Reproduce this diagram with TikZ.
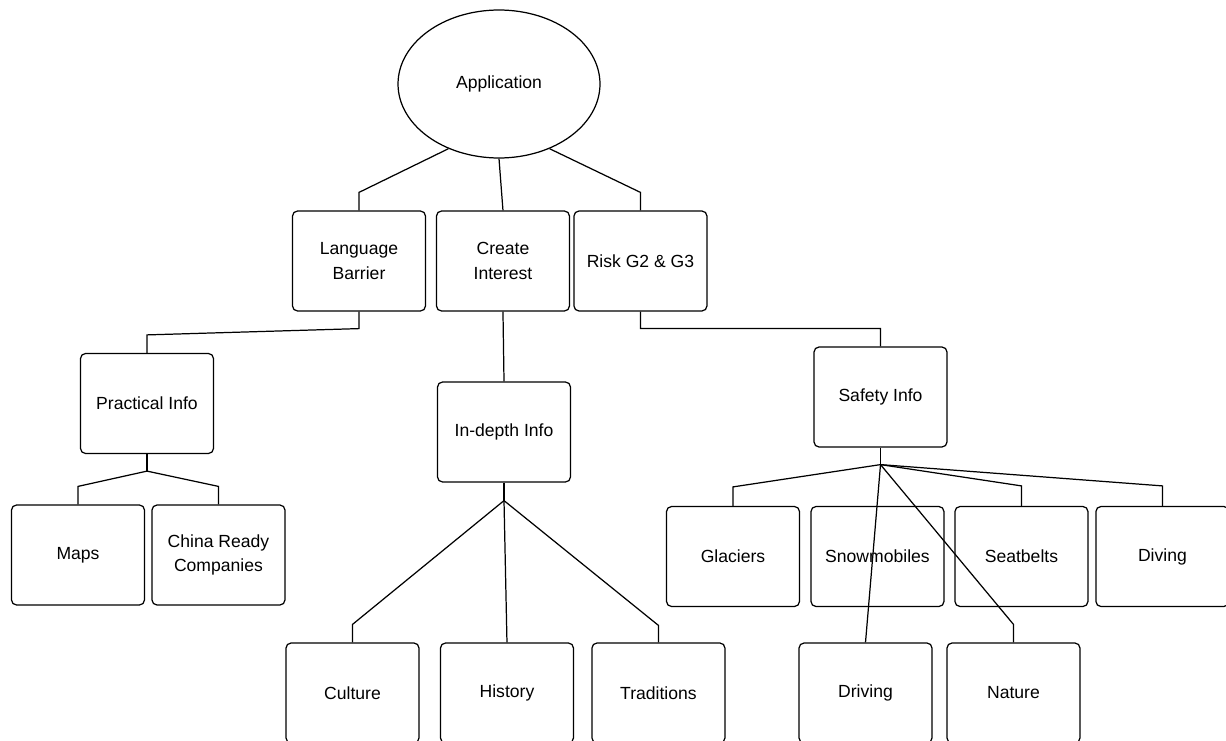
\documentclass[tikz,border=0pt]{standalone}
\usepackage{fontspec}
\setmainfont{Liberation Sans}
\usepackage{tikz}
\usetikzlibrary{calc,shapes,positioning}
\tikzset{
    block/.style = {draw, rectangle, rounded corners=0.1cm,
        minimum height=2cm,
        minimum width=2.66cm, align=center},
    topnode/.style = {draw, ellipse, minimum width=4.04cm, minimum height=2.96cm},
    link/.style = {draw, -}
}

\begin{document}
\begin{tikzpicture}[x=0.02cm, y=-0.02cm, line width=0.7pt, every node/.style={font=\fontsize{10}{14}\selectfont}]
        \useasboundingbox (0,0) rectangle (1226,740);
        % top
        \node [topnode] (app) at (499,84) {Application};
        \node [block] (lang) at (359,261) {Language\\Barrier};
        \node [block, right of=lang, node distance=2.88cm] (create) {Create\\Interest};
        \node [block, right of=create, node distance=2.75cm] (risk) {Risk G2 \& G3};
        % second level
        \node [block] (practical) at (147,403.5) {Practical Info};
        \node [block] (indepth) at (504,432) {In-depth Info};
        \node [block] (safety) at (880.5,397) {Safety Info};
        % leaves
        \node [block] (maps) at (78,555) {Maps};
        \node [block, right of=maps, node distance=2.81cm] (china) {China Ready\\Companies};
        \node [block] (culture) at (352.5,693) {Culture};
        \node [block, right of=culture, node distance=3.09cm] (history) {History};
        \node [block, right of=history, node distance=3.03cm] (traditions) {Traditions};
        \node [block] (glaciers) at (733,556.5) {Glaciers};
        \node [block, right of=glaciers, node distance=2.89cm] (snowmob) {Snowmobiles};
        \node [block, right of=snowmob, node distance=2.88cm] (seatbelts) {Seatbelts};
        \node [block, right of=seatbelts, node distance=2.82cm] (diving) {Diving};
        \node [block] (driving) at (865.5,693) {Driving};
        \node [block, right of=driving, node distance=2.96cm] (nature) {Nature};
        % links from the top
        \draw [link] (app.232) -- ($(lang.north)+(0,-18)$) -- (lang.north);
        \draw [link] (app.south) -- (create.north);
        \draw [link] (app.308) -- ($(risk.north)+(0,-18)$) -- (risk.north);
        \draw [link] (lang.south) -- ($(lang.south)+(0,17)$) -- ($(practical.north)+(0,-18)$) -- (practical.north);
        \draw [link] (create.south) -- (indepth.north);
        \draw [link] (risk.south) -- ($(risk.south)+(0,17)$) -- ($(safety.north)+(0,-18)$) -- (safety.north);
        % practical info
        \coordinate (phub) at ($(practical.south)+(0,17)$);
        \draw [link] (practical.south) -- (phub);
        \draw [link] (phub) -- ($(maps.north)+(0,-18)$) -- (maps.north);
        \draw [link] (phub) -- ($(china.north)+(0,-18)$) -- (china.north);
        % in-depth info
        \coordinate (ihub) at ($(indepth.south)+(0,18)$);
        \draw [link] (indepth.south) -- (ihub);
        \draw [link] (ihub) -- ($(culture.north)+(0,-18)$) -- (culture.north);
        \draw [link] (ihub) -- (history.north);
        \draw [link] (ihub) -- ($(traditions.north)+(0,-17)$) -- (traditions.north);
        % safety info
        \coordinate (shub) at ($(safety.south)+(0,17)$);
        \draw [link] (safety.south) -- (shub);
        \draw [link] (shub) -- ($(glaciers.north)+(0,-19)$) -- (glaciers.north);
        \draw [link] (shub) -- ($(seatbelts.north)+(0,-20)$) -- (seatbelts.north);
        \draw [link] (shub) -- ($(diving.north)+(0,-20)$) -- (diving.north);
        \draw [link] (shub) -- (driving.north);
        \draw [link] (shub) -- ($(nature.north)+(0,-18)$) -- (nature.north);
    \end{tikzpicture}
\end{document}
